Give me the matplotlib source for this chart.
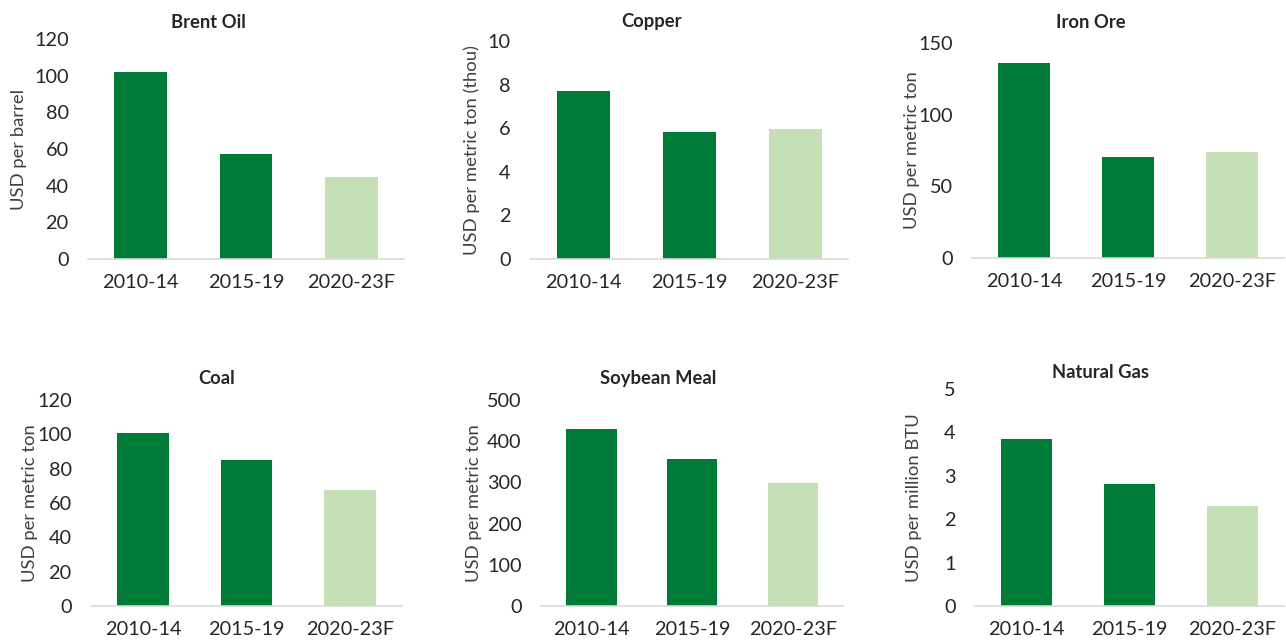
import matplotlib.pyplot as plt

plt.rcParams['font.family'] = ['Lato', 'DejaVu Sans']

periods = ['2010-14', '2015-19', '2020-23F']

brent_oil = [102, 57.3, 44.5]
copper = [7.7, 5.82, 5.96]
iron_ore = [136, 70.2, 74]
coal = [100.6, 85, 67.3]
soybean_meal = [430, 358, 297.5]
natural_gas = [3.85, 2.8, 2.31]

titles = ['Brent Oil', 'Copper', 'Iron Ore', 'Coal', 'Soybean Meal', 'Natural Gas']
ylabels = ['USD per barrel', 'USD per metric ton (thou)', 'USD per metric ton',
           'USD per metric ton', 'USD per metric ton', 'USD per million BTU']
yticks = [range(0, 121, 20), range(0, 11, 2), range(0, 151, 50),
          range(0, 121, 20), range(0, 501, 100), range(0, 6, 1)]
series = [brent_oil, copper, iron_ore, coal, soybean_meal, natural_gas]

dark = '#007A37'
light = '#C5E0B4'
colors = [dark, dark, light]

W, H = 1286, 644
# plot areas in pixels: left, top, right, bottom
boxes = [(88, 39, 404, 259), (530, 41, 848, 259), (972, 43, 1284, 258),
         (91, 400, 402, 606), (541, 400, 843, 606), (975, 389, 1284, 606)]
title_pos = [(208, 22), (652, 22), (1091, 22), (217, 378), (658, 378), (1101, 372)]
# right edge of the rotated y label, pixels
ylabel_x = [27, 480, 920, 38, 482, 922]

fig = plt.figure(figsize=(W / 100, H / 100), dpi=100)

for i in range(6):
    l, t, r, b = boxes[i]
    ax = fig.add_axes([l / W, 1 - b / H, (r - l) / W, (b - t) / H])
    ax.bar(range(3), series[i], width=0.5, color=colors)
    ax.set_xlim(-0.5, 2.5)
    ticks = list(yticks[i])
    ax.set_ylim(0, ticks[-1])
    ax.set_yticks(ticks)
    ax.set_xticks(range(3))
    ax.set_xticklabels(periods)
    ax.tick_params(axis='y', length=0, pad=14, labelsize=14.3, labelcolor='#262626')
    ax.tick_params(axis='x', length=0, pad=11, labelsize=14.3, labelcolor='#262626')
    for s in ['top', 'right', 'left']:
        ax.spines[s].set_visible(False)
    ax.spines['bottom'].set_color('#D9D9D9')
    ax.spines['bottom'].set_linewidth(1.2)
    ax.set_ylabel(ylabels[i], fontsize=13.3, color='#404040')
    ax.yaxis.set_label_coords(ylabel_x[i] / W, 1 - (t + b) / 2 / H,
                              transform=fig.transFigure)
    tx, ty = title_pos[i]
    fig.text(tx / W, 1 - ty / H, titles[i], ha='center', va='center',
             fontsize=13.2, fontweight='bold', color='#262626')

fig.savefig('out.png', dpi=100)
